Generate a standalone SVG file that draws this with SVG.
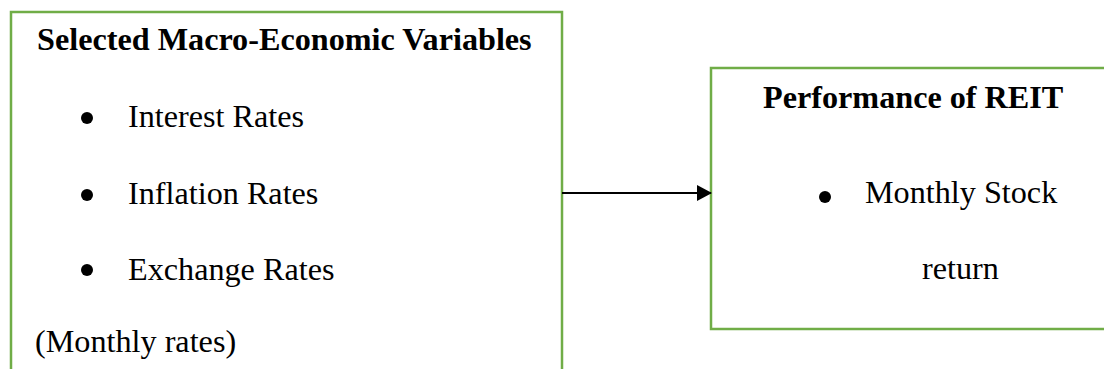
<svg xmlns="http://www.w3.org/2000/svg" width="1104" height="369" viewBox="0 0 1104 369">
<style>
.box{fill:#fff;stroke:#70AD47;stroke-width:2.5}
.t{font-family:"Liberation Serif","Times New Roman",serif;font-size:32.2px;fill:#000}
.b{font-weight:bold}
.dot{fill:#000}
</style>
<defs>
<marker id="ah" markerWidth="16" markerHeight="16" refX="14" refY="8" orient="auto" markerUnits="userSpaceOnUse">
<path d="M0,0 L15,8 L0,16 Z" fill="#000"/>
</marker>
</defs>
<rect width="1104" height="369" fill="#fff"/>
<g id="macro">
<rect class="box" x="11" y="12" width="551" height="380"/>
<text class="t b" x="37" y="50">Selected Macro-Economic Variables</text>
<circle class="dot" cx="87" cy="118" r="6"/>
<text class="t" x="128" y="127">Interest Rates</text>
<circle class="dot" cx="87" cy="195" r="6"/>
<text class="t" x="128" y="204">Inflation Rates</text>
<circle class="dot" cx="87" cy="270" r="6"/>
<text class="t" x="128" y="280">Exchange Rates</text>
<text class="t" x="35" y="352">(Monthly rates)</text>
</g>
<g id="reit">
<rect class="box" x="711" y="68" width="420" height="261"/>
<text class="t b" x="763" y="108">Performance of REIT</text>
<circle class="dot" cx="825" cy="197" r="6"/>
<text class="t" x="865" y="203">Monthly Stock</text>
<text class="t" x="922" y="279">return</text>
</g>
<g id="connectors">
<line x1="562" y1="193" x2="711" y2="193" stroke="#000" stroke-width="2" marker-end="url(#ah)"/>
</g>
</svg>
